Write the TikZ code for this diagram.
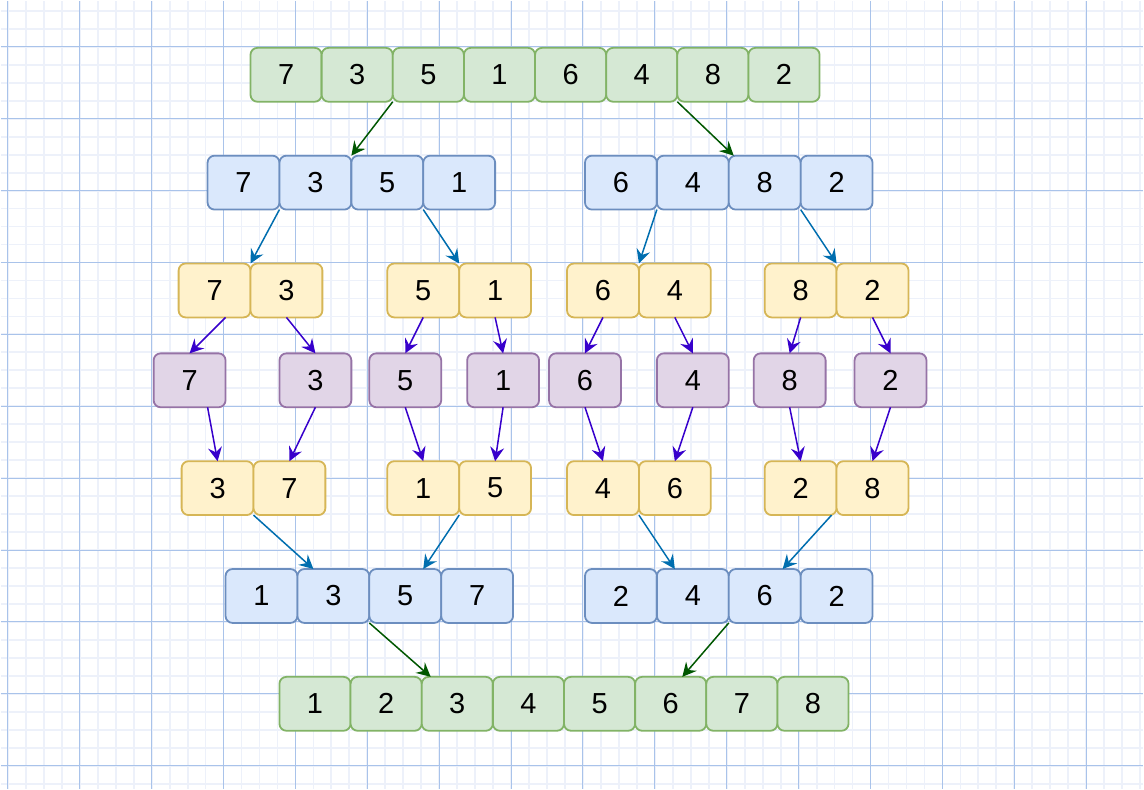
\documentclass[tikz,border=0pt]{standalone}
\usepackage{fontspec}
\setmainfont{Liberation Sans}
\usetikzlibrary{positioning,arrows.meta}

\definecolor{greenfill}{HTML}{D5E8D4}
\definecolor{greendraw}{HTML}{82B366}
\definecolor{bluefill}{HTML}{DAE8FC}
\definecolor{bluedraw}{HTML}{6C8EBF}
\definecolor{yellowfill}{HTML}{FFF2CC}
\definecolor{yellowdraw}{HTML}{D6B656}
\definecolor{purplefill}{HTML}{E1D5E7}
\definecolor{purpledraw}{HTML}{9673A6}
\definecolor{greenarrow}{HTML}{005700}
\definecolor{bluearrow}{HTML}{006EAF}
\definecolor{purplearrow}{HTML}{3700CC}
\definecolor{minorgrid}{HTML}{EDF1FA}
\definecolor{majorgrid}{HTML}{A9C3EA}

\tikzstyle{cell} = [rectangle, draw, line width=1.8pt, rounded corners=7pt, minimum height=54pt, minimum width=72pt, inner sep=0pt, outer sep=0pt, font=\fontsize{29}{31}\selectfont]
\tikzstyle{greencell} = [cell, fill=greenfill, draw=greendraw, minimum width=71.25pt]
\tikzstyle{bluecell} = [cell, fill=bluefill, draw=bluedraw]
\tikzstyle{yellowcell} = [cell, fill=yellowfill, draw=yellowdraw]
\tikzstyle{purplecell} = [cell, fill=purplefill, draw=purpledraw]
\tikzstyle{link} = [line width=1.5pt, -{Stealth[length=14pt, width=14pt, inset=5pt]}]
\tikzstyle{minorline} = [minorgrid, line width=1.8pt]
\tikzstyle{majorline} = [majorgrid, line width=1pt]

\begin{document}
\begin{tikzpicture}[x=1pt, y=-1pt]
        \tikzset{node distance = 0pt}
        % Paper grid
        \fill[white] (0,0) rectangle (1144,789);
        \foreach \gx in {7,25,...,1141} \draw[minorline] (\gx,0) -- (\gx,789);
        \foreach \gy in {10,28,...,786} \draw[minorline] (0,\gy) -- (1144,\gy);
        \foreach \gx in {7,79,...,1141} \draw[majorline] (\gx,0) -- (\gx,789);
        \foreach \gy in {46,118,...,786} \draw[majorline] (0,\gy) -- (1144,\gy);
        \useasboundingbox (0,0) rectangle (1144,789);

        % Input array
        \node (top1) at (285.6,74) [greencell] {7};
        \node (top2) [greencell, right=of top1] {3};
        \node (top3) [greencell, right=of top2] {5};
        \node (top4) [greencell, right=of top3] {1};
        \node (top5) [greencell, right=of top4] {6};
        \node (top6) [greencell, right=of top5] {4};
        \node (top7) [greencell, right=of top6] {8};
        \node (top8) [greencell, right=of top7] {2};

        % First split
        \node (bl1) at (243,182) [bluecell] {7};
        \node (bl2) [bluecell, right=of bl1] {3};
        \node (bl3) [bluecell, right=of bl2] {5};
        \node (bl4) [bluecell, right=of bl3] {1};
        \node (br1) at (621,182) [bluecell] {6};
        \node (br2) [bluecell, right=of br1] {4};
        \node (br3) [bluecell, right=of br2] {8};
        \node (br4) [bluecell, right=of br3] {2};

        % Pairs
        \node (ya1) at (214,290) [yellowcell] {7};
        \node (ya2) [yellowcell, right=of ya1] {3};
        \node (yb1) at (423,290) [yellowcell] {5};
        \node (yb2) [yellowcell, right=of yb1] {1};
        \node (yc1) at (603,290) [yellowcell] {6};
        \node (yc2) [yellowcell, right=of yc1] {4};
        \node (yd1) at (801,290) [yellowcell] {8};
        \node (yd2) [yellowcell, right=of yd1] {2};

        % Single elements
        \node (p1) at (189,380) [purplecell] {7};
        \node (p2) at (315,380) [purplecell] {3};
        \node (p3) at (405,380) [purplecell] {5};
        \node (p4) at (503,380) [purplecell] {1};
        \node (p5) at (585,380) [purplecell] {6};
        \node (p6) at (693,380) [purplecell] {4};
        \node (p7) at (790,380) [purplecell] {8};
        \node (p8) at (891,380) [purplecell] {2};

        % Merged pairs
        \node (za1) at (217,488) [yellowcell] {3};
        \node (za2) [yellowcell, right=of za1] {7};
        \node (zb1) at (423,488) [yellowcell] {1};
        \node (zb2) [yellowcell, right=of zb1] {5};
        \node (zc1) at (603,488) [yellowcell] {4};
        \node (zc2) [yellowcell, right=of zc1] {6};
        \node (zd1) at (801,488) [yellowcell] {2};
        \node (zd2) [yellowcell, right=of zd1] {8};

        % Merged halves
        \node (cl1) at (261,596) [bluecell] {1};
        \node (cl2) [bluecell, right=of cl1] {3};
        \node (cl3) [bluecell, right=of cl2] {5};
        \node (cl4) [bluecell, right=of cl3] {7};
        \node (cr1) at (621,596) [bluecell] {2};
        \node (cr2) [bluecell, right=of cr1] {4};
        \node (cr3) [bluecell, right=of cr2] {6};
        \node (cr4) [bluecell, right=of cr3] {2};

        % Sorted array
        \node (bot1) at (314.6,704) [greencell] {1};
        \node (bot2) [greencell, right=of bot1] {2};
        \node (bot3) [greencell, right=of bot2] {3};
        \node (bot4) [greencell, right=of bot3] {4};
        \node (bot5) [greencell, right=of bot4] {5};
        \node (bot6) [greencell, right=of bot5] {6};
        \node (bot7) [greencell, right=of bot6] {7};
        \node (bot8) [greencell, right=of bot7] {8};

        % Arrows
        \draw[link, greenarrow] (top3.south west) -- (bl2.north east);
        \draw[link, greenarrow] (top6.south east) -- ([xshift=5pt]br3.north west);
        \draw[link, bluearrow] (bl1.south east) -- (ya2.north west);
        \draw[link, bluearrow] (bl4.south west) -- (yb2.north west);
        \draw[link, bluearrow] (br2.south west) -- (yc2.north west);
        \draw[link, bluearrow] (br4.south west) -- (yd2.north west);

        \draw[link, purplearrow] ([xshift=11pt]ya1.south) -- (p1.north);
        \draw[link, purplearrow] (ya2.south) -- (p2.north);
        \draw[link, purplearrow] (yb1.south) -- (p3.north);
        \draw[link, purplearrow] (yb2.south) -- (p4.north);
        \draw[link, purplearrow] (yc1.south) -- (p5.north);
        \draw[link, purplearrow] (yc2.south) -- (p6.north);
        \draw[link, purplearrow] (yd1.south) -- (p7.north);
        \draw[link, purplearrow] (yd2.south) -- (p8.north);

        \draw[link, purplearrow] ([xshift=18pt]p1.south) -- (za1.north);
        \draw[link, purplearrow] (p2.south) -- (za2.north);
        \draw[link, purplearrow] (p3.south) -- (zb1.north);
        \draw[link, purplearrow] (p4.south) -- (zb2.north);
        \draw[link, purplearrow] (p5.south) -- (zc1.north);
        \draw[link, purplearrow] (p6.south) -- (zc2.north);
        \draw[link, purplearrow] (p7.south) -- (zd1.north);
        \draw[link, purplearrow] (p8.south) -- (zd2.north);

        \draw[link, bluearrow] (za1.south east) -- ([xshift=16pt]cl2.north west);
        \draw[link, bluearrow] (zb1.south east) -- ([xshift=18pt]cl3.north);
        \draw[link, bluearrow] (zc1.south east) -- ([xshift=-18pt]cr2.north);
        \draw[link, bluearrow] ([xshift=-5pt]zd1.south east) -- ([xshift=18pt]cr3.north);

        \draw[link, greenarrow] (cl2.south east) -- ([xshift=9pt]bot3.north west);
        \draw[link, greenarrow] (cr2.south east) -- ([xshift=-24pt]bot6.north east);
    \end{tikzpicture}
\end{document}
